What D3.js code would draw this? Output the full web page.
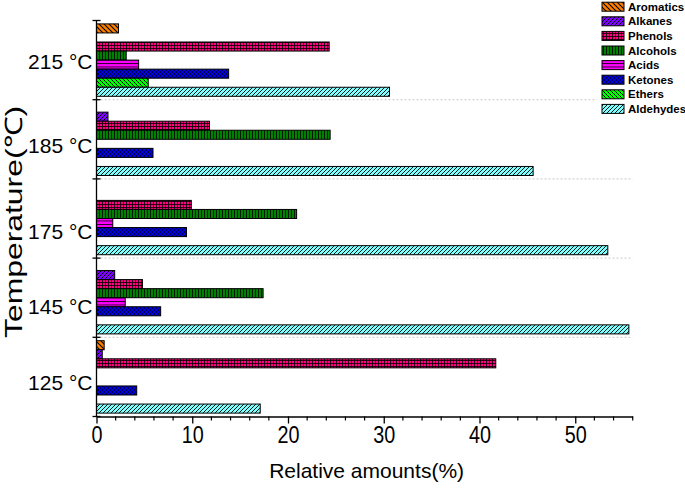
<!DOCTYPE html>
<html><head><meta charset="utf-8">
<script src="https://cdn.jsdelivr.net/npm/d3@7"></script>
<style>body{margin:0;background:#fff}svg{display:block;font-family:"Liberation Sans",Arial,sans-serif}</style>
</head><body>
<svg id="c" width="685" height="490"></svg>
<script>
const categories = ["215 °C","185 °C","175 °C","145 °C","125 °C"];
const series = ["Aromatics","Alkanes","Phenols","Alcohols","Acids","Ketones","Ethers","Aldehydes"];
const aromatics = [2.3, 0, 0, 0, 0.8];
const alkanes   = [0, 1.2, 0, 1.9, 0.6];
const phenols   = [24.3, 11.8, 9.9, 4.8, 41.7];
const alcohols  = [3.1, 24.4, 20.9, 17.4, 0];
const acids     = [4.4, 0, 1.7, 3.0, 0];
const ketones   = [13.8, 5.9, 9.4, 6.7, 4.2];
const ethers    = [5.4, 0, 0, 0, 0];
const aldehydes = [30.6, 45.6, 53.4, 55.6, 17.1];
const xTicks = [0,10,20,30,40,50];
const seriesValues = [aromatics, alkanes, phenols, alcohols, acids, ketones, ethers, aldehydes];

const fills = ["#FF8000","#8000FF","#FF0080","#008000","#FF00FF","#0000FF","#00FF00","#80FFFF"];

(function(){
const svg = d3.select("#c");
const defs = svg.append("defs");
function pat(id, size, bg, d, sw){
  const p = defs.append("pattern").attr("id",id).attr("patternUnits","userSpaceOnUse")
    .attr("width",size).attr("height",size);
  p.append("rect").attr("width",size).attr("height",size).attr("fill",bg);
  p.append("path").attr("d",d).attr("stroke","#000").attr("stroke-width",sw).attr("fill","none");
}
const bs = (s)=>`M0,0L${s},${s}M${-s/2},${s/2}L${s/2},${s*1.5}M${s/2},${-s/2}L${s*1.5},${s/2}`;
const fs = (s)=>`M0,${s}L${s},0M${-s/2},${s/2}L${s/2},${-s/2}M${s/2},${s*1.5}L${s*1.5},${s/2}`;
pat("p0",5,fills[0],bs(5),1.1);
pat("p1",4,fills[1],fs(4),1);
pat("p2",3,fills[2],"M0.5,0V3M0,0.5H3",0.8);
pat("p3",3,fills[3],"M0.5,0V3",0.8);
pat("p4",3.5,fills[4],"M0,0.5H3.5",0.8);
pat("p5",4,fills[5],bs(4)+fs(4),0.7);
pat("p6",4,fills[6],bs(4),1);
pat("p7",4,fills[7],fs(4),0.9);

const mL = 96.5, mR = 632.7, mT = 20.5, mB = 416.5;
const x = d3.scaleLinear().domain([0,56]).range([mL,mR]);
const y0 = d3.scaleBand().domain(categories).range([mT,mB]).padding(0);
const y1 = d3.scaleBand().domain(series).range([0,y0.bandwidth()]).paddingInner(0).paddingOuter(0.375);

const seps = categories.slice(1).map(c=>y0(c));
svg.append("g").selectAll("line").data(seps).join("line")
  .attr("x1",mL).attr("x2",mR).attr("y1",d=>d).attr("y2",d=>d)
  .attr("stroke","#c8c8c8").attr("stroke-width",1).attr("stroke-dasharray","2,2");

const gBars = svg.append("g");
series.forEach((s,si)=>{
  gBars.append("g").selectAll("rect").data(categories.map((c,ci)=>({c,v:seriesValues[si][ci]})).filter(d=>d.v>0))
    .join("rect")
    .attr("x",x(0)).attr("y",d=>y0(d.c)+y1(s))
    .attr("width",d=>x(d.v)-x(0)).attr("height",y1.bandwidth())
    .attr("fill",`url(#p${si})`).attr("stroke","#000").attr("stroke-width",1);
});

const xAxis = svg.append("g").attr("transform",`translate(0,${mB})`)
  .call(d3.axisBottom(x).tickValues(xTicks).tickSize(7).tickSizeOuter(0).tickFormat(d3.format("d")));
xAxis.select(".domain").attr("stroke-width",1.3);
xAxis.selectAll(".tick line").attr("stroke-width",1.3);
xAxis.selectAll(".tick text").attr("font-size",23).attr("font-family","Liberation Sans, Arial, sans-serif")
  .attr("y",10).attr("transform","scale(0.86,1)").attr("fill","#000");
const minor = d3.range(0,57,2).filter(v=>v%10!==0);
svg.append("g").selectAll("line").data(minor).join("line")
  .attr("x1",d=>x(d)).attr("x2",d=>x(d)).attr("y1",mB).attr("y2",mB+4)
  .attr("stroke","#000").attr("stroke-width",1.2);

svg.append("line").attr("x1",mL).attr("x2",mL).attr("y1",mT).attr("y2",mB)
  .attr("stroke","#000").attr("stroke-width",1.3);
const bounds = categories.map(c=>y0(c)).concat([mB]);
svg.append("g").selectAll("line").data(bounds).join("line")
  .attr("x1",mL-4).attr("x2",mL+4).attr("y1",d=>d).attr("y2",d=>d)
  .attr("stroke","#000").attr("stroke-width",1.3);
// label placement nudges as in the source figure
const labelNudge = [2, 6, 13, 9, 6];
svg.append("g").selectAll("text").data(categories).join("text")
  .attr("x",mL-4).attr("y",(d,i)=>y0(d)+y0.bandwidth()/2+labelNudge[i]).attr("dy","0.35em")
  .attr("text-anchor","end").attr("font-size",21).text(d=>d);

svg.append("text").attr("x",(mL+mR)/2+2).attr("y",478).attr("text-anchor","middle")
  .attr("font-size",21).text("Relative amounts(%)");
svg.append("text").attr("transform",`translate(22,222) rotate(-90)`)
  .attr("text-anchor","middle").attr("font-size",24)
  .attr("textLength",232).attr("lengthAdjust","spacingAndGlyphs").text("Temperature(℃)");

const lg = svg.append("g");
lg.append("rect").attr("x",597).attr("y",0).attr("width",88).attr("height",118).attr("fill","#fff");
series.forEach((s,i)=>{
  const cy = 6.7 + i*14.6;
  lg.append("rect").attr("x",602).attr("y",cy-4.5).attr("width",22).attr("height",9)
    .attr("fill",`url(#p${i})`).attr("stroke","#000").attr("stroke-width",1);
  lg.append("text").attr("x",628).attr("y",cy).attr("dy","0.36em")
    .attr("font-size",11.5).attr("font-weight","bold").text(s);
});
})();
</script>
</body></html>
